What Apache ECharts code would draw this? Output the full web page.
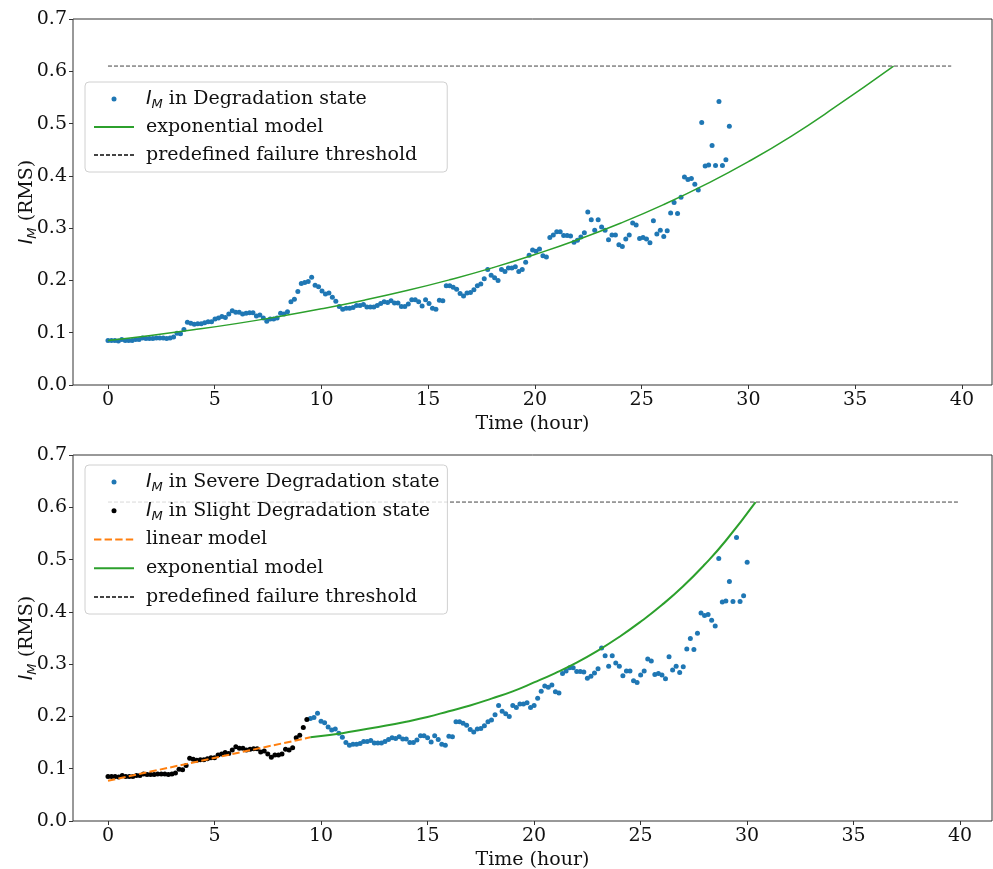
<!DOCTYPE html>
<html><head><meta charset="utf-8">
<script src="https://cdn.jsdelivr.net/npm/echarts/dist/echarts.min.js"></script>
<style>html,body{margin:0;padding:0;background:#fff}#c{width:993px;height:869px}</style>
</head><body><div id="c"></div>
<script>
// RMS of I_M, one sample per step
const imValues = [
0.085,0.085,0.085,0.084,0.087,0.085,0.085,0.085,0.087,0.087,
0.090,0.089,0.089,0.089,0.090,0.090,0.090,0.089,0.090,0.092,
0.099,0.098,0.106,0.120,0.118,0.116,0.117,0.117,0.119,0.121,
0.121,0.126,0.128,0.131,0.129,0.136,0.142,0.139,0.139,0.136,
0.137,0.138,0.138,0.132,0.134,0.128,0.122,0.126,0.126,0.128,
0.137,0.136,0.140,0.159,0.164,0.179,0.194,0.196,0.198,0.206,
0.191,0.188,0.180,0.174,0.176,0.168,0.160,0.150,0.145,0.147,
0.147,0.148,0.152,0.152,0.154,0.149,0.149,0.149,0.152,0.156,
0.159,0.158,0.161,0.157,0.157,0.150,0.150,0.155,0.163,0.163,
0.159,0.151,0.163,0.156,0.147,0.145,0.162,0.161,0.190,0.190,
0.187,0.183,0.175,0.170,0.176,0.177,0.182,0.190,0.193,0.203,
0.221,0.210,0.205,0.200,0.221,0.217,0.224,0.224,0.226,0.217,
0.221,0.235,0.248,0.258,0.256,0.260,0.247,0.245,0.282,0.287,
0.293,0.293,0.286,0.286,0.285,0.273,0.277,0.283,0.291,0.331,
0.316,0.296,0.316,0.302,0.296,0.278,0.287,0.287,0.268,0.265,
0.279,0.287,0.310,0.306,0.280,0.282,0.279,0.272,0.314,0.289,
0.296,0.284,0.295,0.329,0.349,0.328,0.359,0.398,0.393,0.395,
0.384,0.373,0.502,0.419,0.421,0.458,0.420,0.542,0.420,0.431,
0.495];
const dtTop = 0.1617;      // hours per sample in the top panel
const dtBottom = 0.1667;   // hours per sample in the bottom panel
const slightCount = 57;    // first samples in Slight Degradation state

const thresholdValue = 0.61;
const thresholdTopT = [0, 39.5];
const thresholdBottomT = [0, 39.9];

const expTopT = [0,2,4,6,8,10,12,14,16,18,20,22,24,26,28,30,32,34,36.8];
const expTopV = [0.085,0.0947,0.1055,0.1174,0.1308,0.1457,0.1622,0.1806,0.2012,0.224,0.2495,0.2778,0.3094,0.3445,0.3837,0.4272,0.4757,0.5298,0.610];

const expBotT = [9.5,11,12,13,14,15,16,17,18,19,20,21,22,23,24,25,26,27,28,29,30.4];
const expBotV = [0.160,0.168,0.175,0.182,0.190,0.199,0.210,0.221,0.234,0.248,0.265,0.283,0.303,0.326,0.352,0.381,0.413,0.449,0.490,0.536,0.610];

const linT = [0, 9.5];
const linV = [0.077, 0.160];

const xTicks = [0,5,10,15,20,25,30,35,40];

const SERIF = 'DejaVu Serif';
const pairs = (ts, vs) => ts.map((t, i) => [t, vs[i]]);

const topScatter = imValues.map((v, i) => [i * dtTop, v]);
const botAll = imValues.map((v, i) => [i * dtBottom, v]);
const botSlight = botAll.slice(0, slightCount);
const botSevere = botAll.slice(slightCount);

const legendLabels = {
  deg: '{i|I}{s|M} in Degradation state',
  exp1: 'exponential model',
  thr1: 'predefined failure threshold',
  sev: '{i|I}{s|M} in Severe Degradation state',
  sli: '{i|I}{s|M} in Slight Degradation state',
  lin: 'linear model',
  exp2: 'exponential model',
  thr2: 'predefined failure threshold'
};
const rich = {
  i: {fontFamily: 'DejaVu Sans', fontStyle: 'italic', fontSize: 19, color: '#111', lineHeight: 24, verticalAlign: 'middle'},
  s: {fontFamily: 'DejaVu Sans', fontStyle: 'italic', fontSize: 13, color: '#111', lineHeight: 14, verticalAlign: 'bottom'}
};

function xAxis(gridIndex, min, max) {
  return {
    type: 'value', gridIndex, min, max,
    name: 'Time (hour)', nameLocation: 'middle', nameGap: 30, nameMoveOverlap: false,
    nameTextStyle: {fontFamily: SERIF, fontSize: 19, color: '#111'},
    axisLine: {show: false, onZero: false},
    axisTick: {show: true, length: 4, customValues: xTicks, lineStyle: {color: '#333'}},
    axisLabel: {customValues: xTicks, fontFamily: SERIF, fontSize: 19, color: '#111', margin: 6},
    splitLine: {show: false}
  };
}
function yAxis(gridIndex) {
  return {
    type: 'value', gridIndex, min: 0, max: 0.7, interval: 0.1,
    name: '{i|I}{s|M} (RMS)', nameLocation: 'middle', nameGap: 34, nameMoveOverlap: false,
    nameTextStyle: {fontFamily: SERIF, fontSize: 19, color: '#111', lineHeight: 24, rich},
    axisLine: {show: false, onZero: false},
    axisTick: {show: true, length: 4, lineStyle: {color: '#333'}},
    axisLabel: {fontFamily: SERIF, fontSize: 19, color: '#111', margin: 6, formatter: v => v.toFixed(1)},
    splitLine: {show: false}
  };
}
const dotNames = ['deg', 'sev', 'sli'];
function legend(top, names, padding, gap) {
  return {
    orient: 'vertical', left: 85, top,
    data: names.map(n => dotNames.includes(n) ? {name: n, icon: 'circle'} : {name: n, itemStyle: {opacity: 0}}),
    itemWidth: 40, itemHeight: 5, itemGap: gap,
    padding, backgroundColor: 'rgba(255,255,255,0.8)', borderColor: '#d0d0d0', borderWidth: 1, borderRadius: 4,
    formatter: n => legendLabels[n],
    textStyle: {fontFamily: SERIF, fontSize: 19, color: '#111', lineHeight: 24, padding: [0, 0, 0, 7], rich},
    selectedMode: false
  };
}

const gridBase = {left: 73, width: 919, height: 366, show: true, borderColor: '#333', borderWidth: 1,
  backgroundColor: 'transparent', containLabel: false, outerBoundsMode: 'none'};

const option = {
  animation: false,
  backgroundColor: '#fff',
  grid: [
    Object.assign({top: 19}, gridBase),
    Object.assign({top: 455}, gridBase)
  ],
  xAxis: [xAxis(0, -1.639, 41.41), xAxis(1, -1.643, 41.50)],
  yAxis: [yAxis(0), yAxis(1)],
  legend: [
    legend(82, ['deg', 'exp1', 'thr1'], [5, 30, 5, 8], 4),
    legend(465, ['sev', 'sli', 'lin', 'exp2', 'thr2'], [5, 8, 5, 8], 4.75)
  ],
  series: [
    {name: 'deg', type: 'scatter', xAxisIndex: 0, yAxisIndex: 0, data: topScatter, symbolSize: 5, itemStyle: {color: '#1f77b4', opacity: 1}},
    {name: 'exp1', type: 'line', xAxisIndex: 0, yAxisIndex: 0, data: pairs(expTopT, expTopV), smooth: true, showSymbol: false, symbol: 'none', lineStyle: {color: '#2ca02c', width: 1.5}, itemStyle: {color: '#2ca02c'}},
    {name: 'thr1', type: 'line', xAxisIndex: 0, yAxisIndex: 0, data: pairs(thresholdTopT, [thresholdValue, thresholdValue]), showSymbol: false, symbol: 'none', lineStyle: {color: '#444', width: 1, type: [4, 2]}, itemStyle: {color: '#444'}},

    {name: 'sev', type: 'scatter', xAxisIndex: 1, yAxisIndex: 1, data: botSevere, symbolSize: 5, itemStyle: {color: '#1f77b4', opacity: 1}},
    {name: 'sli', type: 'scatter', xAxisIndex: 1, yAxisIndex: 1, data: botSlight, symbolSize: 5, itemStyle: {color: '#000', opacity: 1}},
    {name: 'lin', type: 'line', xAxisIndex: 1, yAxisIndex: 1, data: pairs(linT, linV), showSymbol: false, symbol: 'none', lineStyle: {color: '#ff7f0e', width: 2, type: [7.4, 3.2]}, itemStyle: {color: '#ff7f0e'}},
    {name: 'exp2', type: 'line', xAxisIndex: 1, yAxisIndex: 1, data: pairs(expBotT, expBotV), smooth: true, showSymbol: false, symbol: 'none', lineStyle: {color: '#2ca02c', width: 2}, itemStyle: {color: '#2ca02c'}},
    {name: 'thr2', type: 'line', xAxisIndex: 1, yAxisIndex: 1, data: pairs(thresholdBottomT, [thresholdValue, thresholdValue]), showSymbol: false, symbol: 'none', lineStyle: {color: '#444', width: 1, type: [4, 2]}, itemStyle: {color: '#444'}}
  ]
};
const chart = echarts.init(document.getElementById('c'), null, {renderer: 'canvas'});
chart.setOption(option);
</script></body></html>
